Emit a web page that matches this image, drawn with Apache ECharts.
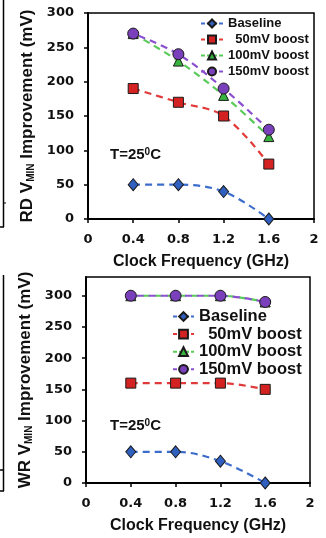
<!DOCTYPE html>
<html>
<head>
<meta charset="utf-8">
<script src="https://cdn.jsdelivr.net/npm/echarts@6/dist/echarts.min.js"></script>
<style>
html,body{margin:0;padding:0;background:#fff;}
#c{width:326px;height:538px;}
</style>
</head>
<body>
<div id="c"></div>
<script>
// ---- data ----
const freqs = [0.4, 0.8, 1.2, 1.6];
const seriesNames = ['Baseline', '50mV boost', '100mV boost', '150mV boost'];
const rdBaseline = [50, 50, 40, 0];
const rd50 = [190, 170, 150, 80];
const rd100 = [270, 230, 180, 120];
const rd150 = [270, 240, 190, 130];
const wrBaseline = [50, 50, 35, 0];
const wr50 = [160, 160, 160, 150];
const wr100 = [300, 300, 300, 290];
const wr150 = [300, 300, 300, 290];
const xTicks = [0, 0.4, 0.8, 1.2, 1.6, 2];
const yTicks = [0, 50, 100, 150, 200, 250, 300];

// ---- styles ----
const styles = [
  {symbol: 'diamond', line: '#3d6dcc', fill: '#2f5fbf', size: [10, 12], off: 0},
  {symbol: 'rect', line: '#e03a3a', fill: '#d42222', size: 10, off: 0},
  {symbol: 'triangle', line: '#5acb5a', fill: '#36b43e', size: 10, off: 0},
  {symbol: 'circle', line: '#8a50d0', fill: '#7a3fba', size: 11, off: 6}
];
const TICKF = '"DejaVu Sans", sans-serif';
const F = '"Liberation Sans", Arial, sans-serif';

function pairs(vals) { return freqs.map((f, i) => [f, vals[i]]); }

function mkSeries(name, vals, idx, st) {
  return {
    name: name, type: 'line', xAxisIndex: idx, yAxisIndex: idx,
    data: pairs(vals), smooth: 0.35,
    symbol: st.symbol, symbolSize: st.size,
    lineStyle: {color: st.line, width: 2.2, type: [7, 5], dashOffset: st.off},
    itemStyle: {color: st.fill, borderColor: '#1a1a1a', borderWidth: 1},
    z: 3
  };
}

function xAx(idx) {
  return {
    type: 'value', gridIndex: idx, min: 0, max: 2, interval: 0.4,
    name: 'Clock Frequency (GHz)', nameLocation: 'middle', nameGap: 35,
    nameTextStyle: {fontFamily: F, fontWeight: 'bold', fontSize: 16, color: '#111'},
    axisLine: {lineStyle: {color: '#000', width: 2}},
    axisTick: {show: true, inside: false, length: 4, lineStyle: {color: '#000', width: 1.5}},
    axisLabel: {fontFamily: TICKF, fontWeight: 'bold', fontSize: 13, color: '#111', margin: 14,
      formatter: v => (Math.abs(v) < 1e-9 ? '0' : (Math.abs(v - 2) < 1e-9 ? '2' : v.toFixed(1)))},
    splitLine: {show: false}
  };
}

function yAx(idx, prefix, max, gap) {
  return {
    type: 'value', gridIndex: idx, min: 0, max: max, interval: 50,
    name: prefix + ' V{sub|MIN} Improvement (mV)', nameLocation: 'middle', nameRotate: 90, nameGap: gap,
    nameTextStyle: {fontFamily: F, fontWeight: 'bold', fontSize: 17, color: '#111',
      rich: {sub: {fontFamily: F, fontWeight: 'bold', fontSize: 10, color: '#111', verticalAlign: 'bottom', padding: [6, 0, 0, 0]}}},
    axisLine: {lineStyle: {color: '#000', width: 2}},
    axisTick: {show: true, inside: false, length: 4, lineStyle: {color: '#000', width: 1.5}, customValues: yTicks},
    axisLabel: {fontFamily: TICKF, fontWeight: 'bold', fontSize: 13, color: '#111', margin: 14, customValues: yTicks},
    splitLine: {show: false}
  };
}

function legend(left, top, fs, lh, gap, iw, ih) {
  return {
    orient: 'vertical', left: left, top: top, itemWidth: iw, itemHeight: ih, itemGap: gap,
    data: seriesNames.map(n => ({name: n})), padding: 0,
    lineStyle: {type: [4, 2], width: 2},
    formatter: n => (n === '50mV boost' ? '  50mV boost' : n),
    textStyle: {fontFamily: F, fontWeight: 'bold', fontSize: fs, lineHeight: lh, color: '#111'},
    selectedMode: false
  };
}

const chart = echarts.init(document.getElementById('c'), null, {renderer: 'canvas'});
chart.setOption({
  animation: false,
  backgroundColor: '#fff',
  grid: [
    {left: 88, top: 13, width: 226, height: 206, show: true, borderColor: '#000', borderWidth: 1.5, backgroundColor: 'transparent'},
    {left: 86, top: 277, width: 224, height: 206, show: true, borderColor: '#000', borderWidth: 1.5, backgroundColor: 'transparent'}
  ],
  xAxis: [xAx(0), xAx(1)],
  yAxis: [yAx(0, 'RD', 300, 37), yAx(1, 'WR', 330, 37)],
  legend: [
    legend(200, 17, 13, 12, 3, 22, 10),
    legend(172, 308, 16.5, 14, 0.6, 21, 11)
  ],
  series: [
    mkSeries(seriesNames[0], rdBaseline, 0, styles[0]),
    mkSeries(seriesNames[1], rd50, 0, styles[1]),
    mkSeries(seriesNames[2], rd100, 0, styles[2]),
    mkSeries(seriesNames[3], rd150, 0, styles[3]),
    mkSeries(seriesNames[0], wrBaseline, 1, styles[0]),
    mkSeries(seriesNames[1], wr50, 1, styles[1]),
    mkSeries(seriesNames[2], wr100, 1, styles[2]),
    mkSeries(seriesNames[3], wr150, 1, styles[3])
  ],
  graphic: [
    {type: 'text', left: 110, top: 147, style: {text: '{a|T=25}{s|0}{a|C}', rich: {
      a: {fontFamily: F, fontWeight: 'bold', fontSize: 15, fill: '#111'},
      s: {fontFamily: F, fontWeight: 'bold', fontSize: 10, fill: '#111', verticalAlign: 'top', padding: [0, 0, 6, 0]}}}},
    {type: 'text', left: 110, top: 418, style: {text: '{a|T=25}{s|0}{a|C}', rich: {
      a: {fontFamily: F, fontWeight: 'bold', fontSize: 15, fill: '#111'},
      s: {fontFamily: F, fontWeight: 'bold', fontSize: 10, fill: '#111', verticalAlign: 'top', padding: [0, 0, 6, 0]}}}},
    // remnants of neighbouring panel at the left edge
    {type: 'line', shape: {x1: 3.5, y1: 0, x2: 3.5, y2: 227}, style: {stroke: '#000', lineWidth: 1.5}},
    {type: 'line', shape: {x1: 0, y1: 227, x2: 4, y2: 227}, style: {stroke: '#000', lineWidth: 1.5}},
    {type: 'line', shape: {x1: 3.5, y1: 203, x2: 6, y2: 203}, style: {stroke: '#000', lineWidth: 1}},
    {type: 'line', shape: {x1: 3.5, y1: 275, x2: 3.5, y2: 491}, style: {stroke: '#000', lineWidth: 1.5}},
    {type: 'line', shape: {x1: 0, y1: 470, x2: 4, y2: 470}, style: {stroke: '#000', lineWidth: 1.5}},
    {type: 'line', shape: {x1: 0, y1: 491, x2: 4, y2: 491}, style: {stroke: '#000', lineWidth: 1.5}}
  ]
});
</script>
</body>
</html>
